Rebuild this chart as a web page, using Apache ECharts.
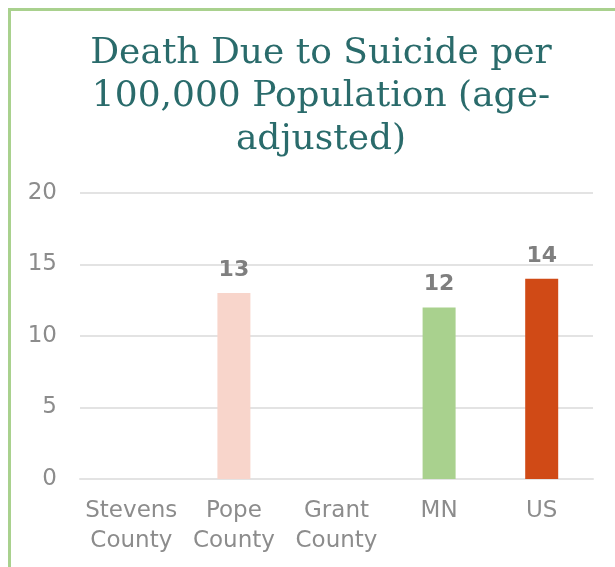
<!DOCTYPE html>
<html>
<head>
<meta charset="utf-8">
<script src="https://cdn.jsdelivr.net/npm/echarts@6/dist/echarts.min.js"></script>
<style>
  html, body { margin: 0; padding: 0; background: #fff; }
  #frame {
    position: absolute; left: 8px; top: 8px; width: 640px; height: 600px;
    border-left: 3px solid #A9D18E; border-top: 3px solid #A9D18E;
  }
  #chart { position: absolute; left: 0; top: 0; width: 615px; height: 567px; }
</style>
</head>
<body>
<div id="frame"></div>
<div id="chart"></div>
<script>
const categories = ['Stevens\nCounty', 'Pope\nCounty', 'Grant\nCounty', 'MN', 'US']
const values = [null, 13, null, 12, 14]
const barColors = ['#F8D5CB', '#F8D5CB', '#F8D5CB', '#A9D18E', '#D04A16']
const yTicks = { min: 0, max: 20, interval: 5 }

const chart = echarts.init(document.getElementById('chart'))

chart.setOption({
  animation: false,
  title: {
    text: 'Death Due to Suicide per\n100,000 Population (age-\nadjusted)',
    left: 316,
    top: 27,
    textAlign: 'center',
    textStyle: {
      fontFamily: 'DejaVu Serif',
      fontWeight: 'normal',
      fontSize: 36,
      lineHeight: 43,
      color: '#2A6B6B',
    },
  },
  grid: { left: 80, right: 22, top: 193, bottom: 88 },
  xAxis: {
    type: 'category',
    data: categories,
    axisLine: { lineStyle: { color: '#E3E3E3', width: 2 } },
    axisTick: { show: false },
    axisLabel: {
      color: '#8C8C8C',
      fontFamily: 'DejaVu Sans',
      fontSize: 23,
      lineHeight: 30,
      margin: 17,
      interval: 0,
    },
  },
  yAxis: {
    type: 'value',
    ...yTicks,
    axisLine: { show: false },
    axisTick: { show: false },
    splitLine: { lineStyle: { color: '#E3E3E3', width: 2 } },
    axisLabel: {
      color: '#8C8C8C',
      fontFamily: 'DejaVu Sans',
      fontSize: 23,
      margin: 23,
    },
  },
  series: [{
    type: 'bar',
    data: values.map((v, i) => ({ value: v, itemStyle: { color: barColors[i] } })),
    barWidth: 33,
    label: {
      show: true,
      position: 'top',
      distance: 12,
      color: '#7F7F7F',
      fontFamily: 'DejaVu Sans',
      fontWeight: 'bold',
      fontSize: 22,
    },
  }],
})
</script>
</body>
</html>
